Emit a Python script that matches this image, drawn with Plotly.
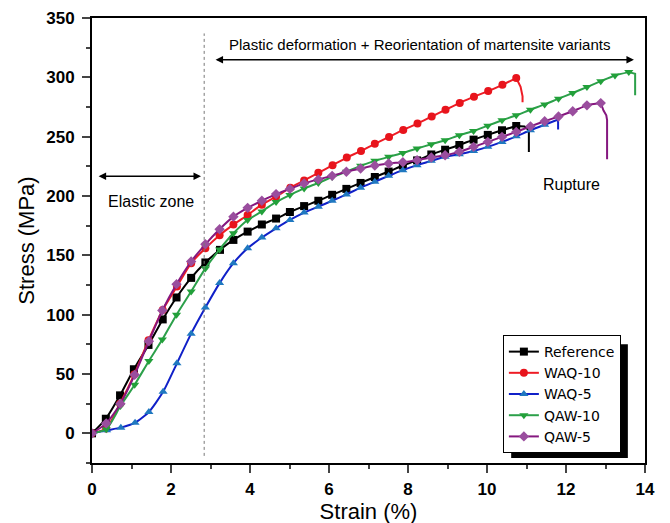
import plotly.graph_objects as go

# ---------------- data ----------------
ref_x = [0, 0.35, 0.71, 1.06, 1.43, 1.79, 2.14, 2.51, 2.87, 3.24, 3.58, 3.94, 4.30, 4.66, 5.01, 5.37,
         5.73, 6.08, 6.44, 6.80, 7.16, 7.51, 7.87, 8.23, 8.59, 8.94, 9.30, 9.66, 10.02, 10.38, 10.74]
ref_y = [0, 12.3, 32, 54, 74.5, 96, 114.5, 131, 144, 154.6, 163, 170, 176, 181, 186.5, 191.5,
         196, 201, 206, 211, 216, 220.6, 225.7, 230, 235, 239, 243, 247.5, 251.5, 255.4, 259]
ref_tail_x = [10.74, 10.95, 11.06, 11.06]
ref_tail_y = [259, 258.5, 255.5, 237]

waq10_x = [0, 0.36, 0.71, 1.07, 1.43, 1.79, 2.15, 2.51, 2.87, 3.23, 3.58, 3.94, 4.30, 4.66, 5.02, 5.37,
           5.73, 6.09, 6.45, 6.81, 7.16, 7.52, 7.88, 8.24, 8.60, 8.95, 9.31, 9.67, 10.03, 10.39, 10.74]
waq10_y = [0, 4, 25, 49.6, 78.4, 104, 123.8, 143.4, 156, 167, 175.9, 184, 192.7, 199.4, 207, 213.1,
           219.5, 226, 232.4, 238, 244, 249.8, 255.7, 261, 267, 272.7, 278.4, 283.7, 288.4, 293.7, 299.4]
waq10_tail_x = [10.74, 10.85, 10.90, 10.90]
waq10_tail_y = [299.4, 292, 284, 279]

waq5_x = [0, 0.37, 0.73, 1.09, 1.44, 1.80, 2.15, 2.51, 2.87, 3.23, 3.58, 3.94, 4.30, 4.66, 5.01, 5.37,
          5.73, 6.08, 6.44, 6.80, 7.16, 7.51, 7.87, 8.23, 8.59, 8.94, 9.30, 9.66, 10.02, 10.38, 10.74,
          11.10, 11.46]
waq5_y = [0, 2.5, 4.8, 9, 18, 35, 59, 84, 106, 126.6, 143.4, 156, 165, 172.8, 179.8, 186,
          191, 196, 201.3, 207, 212, 217, 221.8, 226, 229.6, 233, 235.2, 238, 241.4, 245.6, 250.3,
          255.4, 260]
waq5_tail_x = [11.46, 11.78, 11.80, 11.80]
waq5_tail_y = [260, 264.5, 264.5, 256]

qaw10_x = [0, 0.36, 0.72, 1.08, 1.44, 1.78, 2.14, 2.51, 2.87, 3.23, 3.58, 3.94, 4.30, 4.66, 5.01, 5.37,
           5.73, 6.08, 6.44, 6.80, 7.16, 7.51, 7.87, 8.23, 8.59, 8.94, 9.30, 9.66, 10.02, 10.38, 10.74,
           11.10, 11.46, 11.81, 12.17, 12.53, 12.88, 13.24, 13.59]
qaw10_y = [0, 3.4, 23, 41, 61, 79, 100, 119.6, 139, 155, 168.6, 179.8, 187, 195, 200.8, 206.4,
           211, 216, 220.4, 225.4, 229.6, 233, 236.3, 240, 243.6, 247, 251.2, 254.8, 259.3, 263.8, 268,
           272.7, 277.2, 282, 286.8, 291.8, 296.8, 301.6, 304.4]
qaw10_tail_x = [13.59, 13.72, 13.75, 13.75]
qaw10_tail_y = [304.4, 303.5, 303, 285]

qaw5_x = [0, 0.36, 0.72, 1.08, 1.44, 1.78, 2.14, 2.51, 2.87, 3.23, 3.58, 3.94, 4.30, 4.66, 5.01, 5.37,
          5.73, 6.08, 6.44, 6.80, 7.16, 7.51, 7.87, 8.23, 8.59, 8.94, 9.30, 9.66, 10.02, 10.38, 10.74,
          11.10, 11.46, 11.81, 12.17, 12.53, 12.88]
qaw5_y = [0, 8.4, 25, 49.3, 77.6, 103.6, 125.7, 144.8, 159.3, 172, 182.6, 190, 196, 201.6, 206, 210.6,
          214, 217, 220.4, 223.2, 225.7, 227.4, 228.5, 230.2, 232.4, 234.4, 237.2, 241.4, 245.6, 249.8, 254,
          258.7, 263, 267, 271.4, 276.4, 278.3]
qaw5_tail_x = [12.88, 12.95, 13.02, 13.04, 13.04]
qaw5_tail_y = [278.3, 272, 268, 264, 231]

series_names = ["Reference", "WAQ-10", "WAQ-5", "QAW-10", "QAW-5"]

# ---------------- styles ----------------
styles = [
    dict(line="#000000", marker="#000000", symbol="square"),
    dict(line="#ee1c25", marker="#e8141c", symbol="circle"),
    dict(line="#1020c8", marker="#1f78c0", symbol="triangle-up"),
    dict(line="#2ca04a", marker="#22a03a", symbol="triangle-down"),
    dict(line="#85177f", marker="#9a4e9e", symbol="diamond"),
]

data = [
    (ref_x, ref_y, ref_tail_x, ref_tail_y),
    (waq10_x, waq10_y, waq10_tail_x, waq10_tail_y),
    (waq5_x, waq5_y, waq5_tail_x, waq5_tail_y),
    (qaw10_x, qaw10_y, qaw10_tail_x, qaw10_tail_y),
    (qaw5_x, qaw5_y, qaw5_tail_x, qaw5_tail_y),
]

fig = go.Figure()
for name, st, (xs, ys, tx, ty) in zip(series_names, styles, data):
    fig.add_trace(go.Scatter(
        x=tx, y=ty, mode="lines", showlegend=False, hoverinfo="skip",
        line=dict(color=st["line"], width=2)))
    fig.add_trace(go.Scatter(
        x=xs, y=ys, name=name, mode="lines+markers",
        line=dict(color=st["line"], width=2, shape="spline", smoothing=0.6),
        marker=dict(symbol=st["symbol"], size=8, color=st["marker"],
                    line=dict(width=0))))

font = "Liberation Sans, Arial, sans-serif"

# dotted divider line
fig.add_shape(type="line", x0=2.84, x1=2.84, y0=-19, y1=337, xref="x", yref="y",
              line=dict(color="#777777", width=1, dash="dot"))

# double arrows
def double_arrow(x0, x1, y):
    fig.add_annotation(x=x1, y=y, ax=x0, ay=y, xref="x", yref="y", axref="x", ayref="y",
                       text="", showarrow=True, arrowhead=2, startarrowhead=2,
                       arrowside="end+start", arrowsize=1, arrowwidth=1.5, arrowcolor="black",
                       standoff=0, startstandoff=0)

double_arrow(0.13, 2.76, 216.7)
double_arrow(3.09, 13.72, 314.8)

fig.add_annotation(x=1.5, y=195, xref="x", yref="y", text="Elastic zone", showarrow=False,
                   font=dict(family=font, size=16, color="black"))
fig.add_annotation(x=8.28, y=327.6, xref="x", yref="y",
                   text="Plastic deformation + Reorientation of martensite variants",
                   showarrow=False, font=dict(family=font, size=15, color="black"))
fig.add_annotation(x=12.13, y=210, xref="x", yref="y", text="Rupture", showarrow=False,
                   font=dict(family=font, size=16, color="black"))

# legend shadow
fig.add_shape(type="rect", xref="paper", yref="paper",
              x0=0.758, x1=0.969, y0=0.011, y1=0.267,
              fillcolor="black", line=dict(width=0), layer="above")

fig.update_layout(
    width=670, height=523,
    margin=dict(l=84, r=33, t=10, b=68),
    paper_bgcolor="white", plot_bgcolor="white",
    font=dict(family=font, color="black"),
    showlegend=True,
    legend=dict(x=0.743, y=0.2876, xanchor="left", yanchor="top",
                bgcolor="white", bordercolor="black", borderwidth=1,
                font=dict(family="DejaVu Sans", size=14, color="black"),
                tracegroupgap=0),
    xaxis=dict(range=[0, 14], dtick=2, tick0=0, ticks="outside", ticklen=8, tickwidth=2,
               showline=True, linewidth=2, linecolor="black", mirror=True, automargin=False,
               showgrid=False, zeroline=False, ticklabelstandoff=2,
               minor=dict(dtick=1, ticks="outside", ticklen=4, tickwidth=2, showgrid=False),
               tickfont=dict(family=font, size=17, color="black", weight="bold"),
               title=dict(text="Strain (%)", font=dict(family=font, size=22, color="black"),
                          standoff=0)),
    yaxis=dict(range=[-25, 350], dtick=50, tick0=0, ticks="outside", ticklen=8, tickwidth=2,
               showline=True, linewidth=2, linecolor="black", mirror=True, automargin=False,
               showgrid=False, zeroline=False, ticklabelstandoff=4,
               minor=dict(dtick=25, ticks="outside", ticklen=4, tickwidth=2, showgrid=False),
               tickfont=dict(family=font, size=17, color="black", weight="bold"),
               title=dict(text="Stress (MPa)", font=dict(family=font, size=22, color="black"),
                          standoff=6)),
)

fig.write_html("out.html")
